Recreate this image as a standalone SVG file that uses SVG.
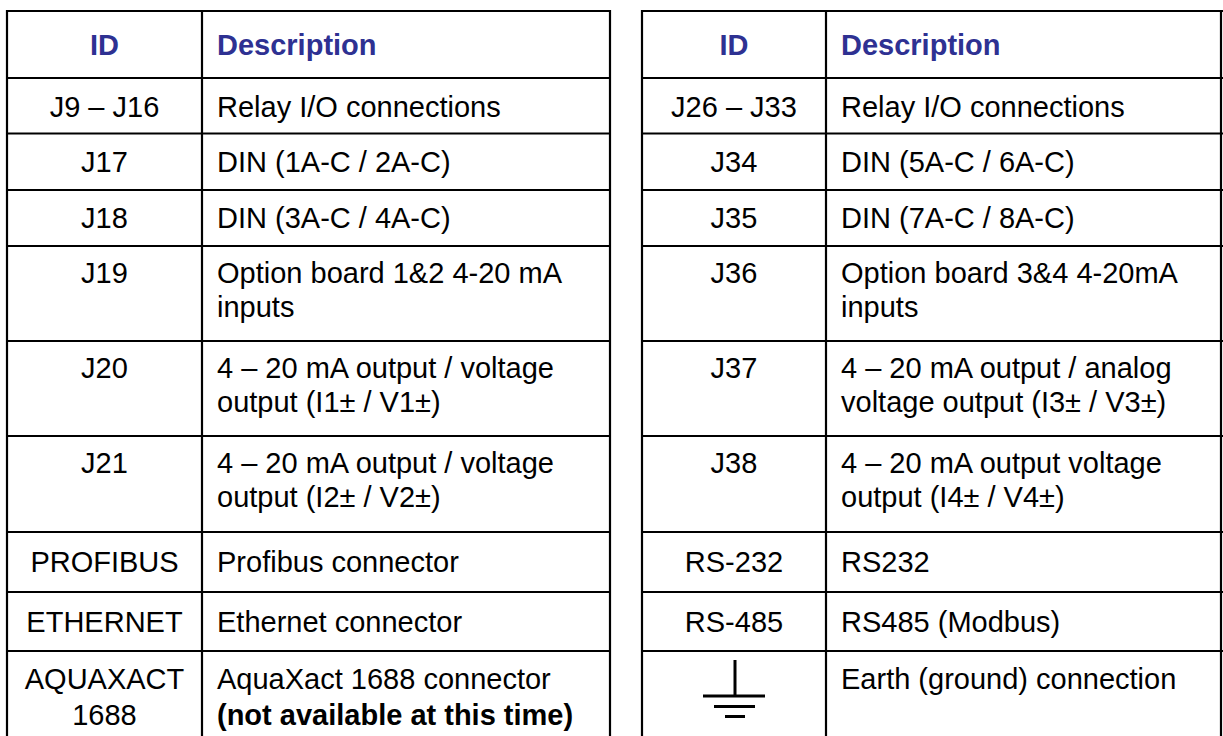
<svg xmlns="http://www.w3.org/2000/svg" width="1223" height="736" viewBox="0 0 1223 736">
<style>
.bg{fill:#ffffff}
.grid line{stroke:#000;stroke-width:2.2}
text{font-family:"Liberation Sans",Arial,sans-serif;font-size:29px;fill:#000}
.hd{font-weight:bold;fill:#2E3192}
.c{text-anchor:middle}
.b{font-weight:bold}
.gnd line{stroke:#000;stroke-width:3}
</style>
<rect class="bg" x="0" y="0" width="1223" height="736"/>
<g id="connectors" class="grid">
  <line x1="7" y1="10" x2="7" y2="740"/>
  <line x1="202" y1="10" x2="202" y2="740"/>
  <line x1="610" y1="10" x2="610" y2="740"/>
  <line x1="6" y1="11" x2="611" y2="11"/>
  <line x1="6" y1="78" x2="611" y2="78"/>
  <line x1="6" y1="133.5" x2="611" y2="133.5"/>
  <line x1="6" y1="190" x2="611" y2="190"/>
  <line x1="6" y1="246" x2="611" y2="246"/>
  <line x1="6" y1="341" x2="611" y2="341"/>
  <line x1="6" y1="436" x2="611" y2="436"/>
  <line x1="6" y1="532" x2="611" y2="532"/>
  <line x1="6" y1="592" x2="611" y2="592"/>
  <line x1="6" y1="651" x2="611" y2="651"/>
  <line x1="642" y1="10" x2="642" y2="740"/>
  <line x1="826" y1="10" x2="826" y2="740"/>
  <line x1="1221" y1="10" x2="1221" y2="740"/>
  <line x1="641" y1="11" x2="1223" y2="11"/>
  <line x1="641" y1="78" x2="1223" y2="78"/>
  <line x1="641" y1="133.5" x2="1223" y2="133.5"/>
  <line x1="641" y1="190" x2="1223" y2="190"/>
  <line x1="641" y1="246" x2="1223" y2="246"/>
  <line x1="641" y1="341" x2="1223" y2="341"/>
  <line x1="641" y1="436" x2="1223" y2="436"/>
  <line x1="641" y1="532" x2="1223" y2="532"/>
  <line x1="641" y1="592" x2="1223" y2="592"/>
  <line x1="641" y1="651" x2="1223" y2="651"/>
</g>
<g id="header-left">
  <text class="hd c" x="104.5" y="55">ID</text>
  <text class="hd" x="217" y="55">Description</text>
</g>
<g id="header-right">
  <text class="hd c" x="734" y="55">ID</text>
  <text class="hd" x="841" y="55">Description</text>
</g>
<g id="row-j9"><text class="c" x="104.5" y="117">J9 – J16</text><text x="217" y="117">Relay I/O connections</text></g>
<g id="row-j17"><text class="c" x="104.5" y="172">J17</text><text x="217" y="172">DIN (1A-C / 2A-C)</text></g>
<g id="row-j18"><text class="c" x="104.5" y="228">J18</text><text x="217" y="228">DIN (3A-C / 4A-C)</text></g>
<g id="row-j19"><text class="c" x="104.5" y="283">J19</text><text x="217" y="283">Option board 1&amp;2 4-20 mA</text><text x="217" y="317">inputs</text></g>
<g id="row-j20"><text class="c" x="104.5" y="378">J20</text><text x="217" y="378">4 – 20 mA output / voltage</text><text x="217" y="412">output (I1± / V1±)</text></g>
<g id="row-j21"><text class="c" x="104.5" y="473">J21</text><text x="217" y="473">4 – 20 mA output / voltage</text><text x="217" y="507">output (I2± / V2±)</text></g>
<g id="row-profibus"><text class="c" x="104.5" y="572">PROFIBUS</text><text x="217" y="572">Profibus connector</text></g>
<g id="row-ethernet"><text class="c" x="104.5" y="632">ETHERNET</text><text x="217" y="632">Ethernet connector</text></g>
<g id="row-aquaxact"><text class="c" x="104.5" y="689">AQUAXACT</text><text class="c" x="104.5" y="725">1688</text><text x="217" y="689">AquaXact 1688 connector</text><text class="b" x="217" y="725">(not available at this time)</text></g>
<g id="row-j26"><text class="c" x="734" y="117">J26 – J33</text><text x="841" y="117">Relay I/O connections</text></g>
<g id="row-j34"><text class="c" x="734" y="172">J34</text><text x="841" y="172">DIN (5A-C / 6A-C)</text></g>
<g id="row-j35"><text class="c" x="734" y="228">J35</text><text x="841" y="228">DIN (7A-C / 8A-C)</text></g>
<g id="row-j36"><text class="c" x="734" y="283">J36</text><text x="841" y="283">Option board 3&amp;4 4-20mA</text><text x="841" y="317">inputs</text></g>
<g id="row-j37"><text class="c" x="734" y="378">J37</text><text x="841" y="378">4 – 20 mA output / analog</text><text x="841" y="412">voltage output (I3± / V3±)</text></g>
<g id="row-j38"><text class="c" x="734" y="473">J38</text><text x="841" y="473">4 – 20 mA output voltage</text><text x="841" y="507">output (I4± / V4±)</text></g>
<g id="row-rs232"><text class="c" x="734" y="572">RS-232</text><text x="841" y="572">RS232</text></g>
<g id="row-rs485"><text class="c" x="734" y="632">RS-485</text><text x="841" y="632">RS485 (Modbus)</text></g>
<g id="row-earth">
  <g class="gnd">
    <line x1="735" y1="660" x2="735" y2="696"/>
    <line x1="703" y1="696" x2="765" y2="696"/>
    <line x1="714" y1="706.5" x2="755" y2="706.5"/>
    <line x1="725" y1="716.5" x2="745" y2="716.5"/>
  </g>
  <text x="841" y="689">Earth (ground) connection</text>
</g>
</svg>
